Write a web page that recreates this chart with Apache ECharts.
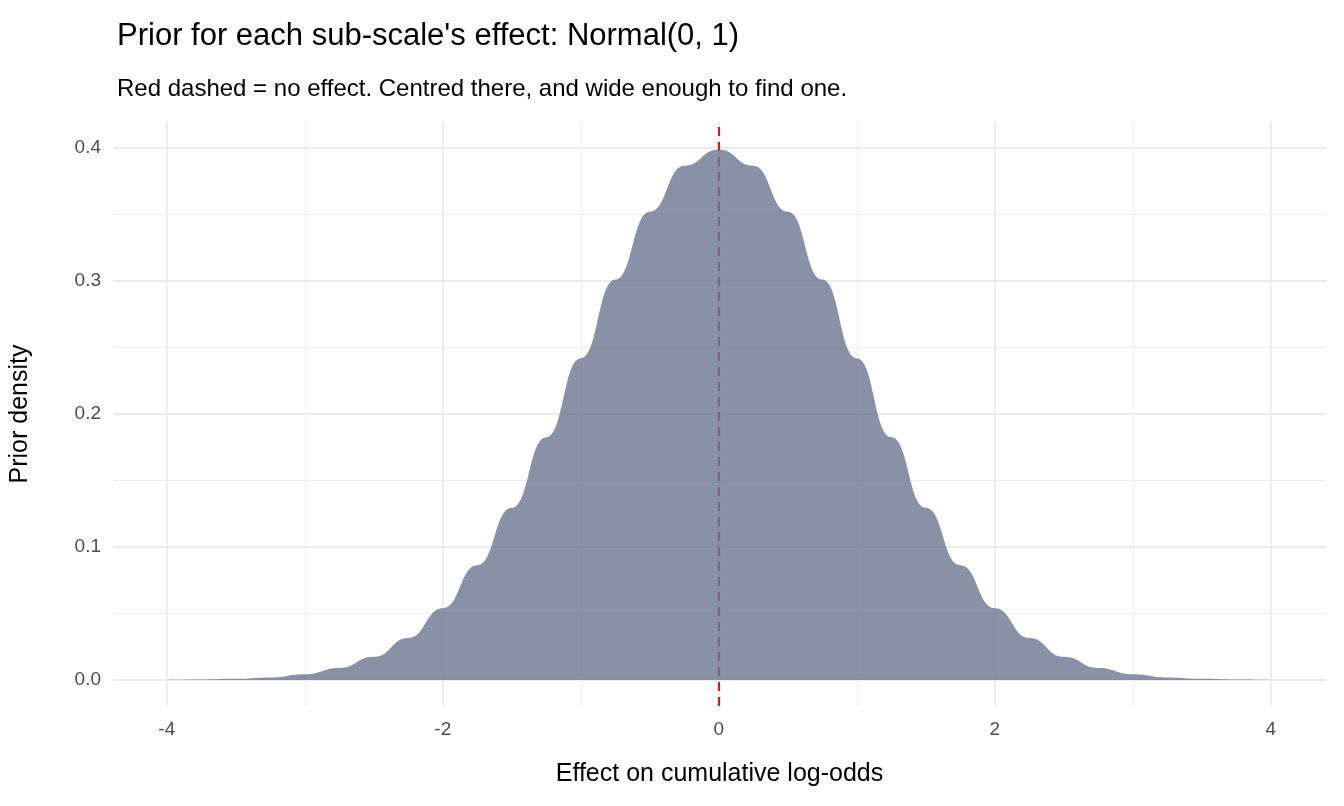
<!DOCTYPE html>
<html><head><meta charset="utf-8">
<script src="https://cdn.jsdelivr.net/npm/echarts@6/dist/echarts.min.js"></script>
<style>html,body{margin:0;padding:0;background:#fff}#c{width:1344px;height:806px}</style>
</head><body><div id="c"></div>
<script>
const xs = [-4,-3.75,-3.5,-3.25,-3,-2.75,-2.5,-2.25,-2,-1.75,-1.5,-1.25,-1,-0.75,-0.5,-0.25,0,0.25,0.5,0.75,1,1.25,1.5,1.75,2,2.25,2.5,2.75,3,3.25,3.5,3.75,4];
const density = [0.0001,0.0004,0.0009,0.0020,0.0044,0.0091,0.0175,0.0317,0.0540,0.0863,0.1295,0.1826,0.2420,0.3011,0.3521,0.3867,0.3989,0.3867,0.3521,0.3011,0.2420,0.1826,0.1295,0.0863,0.0540,0.0317,0.0175,0.0091,0.0044,0.0020,0.0009,0.0004,0.0001];
const xTicks = [-4,-2,0,2,4];
const xMinor = [-3,-1,1,3];
const yTicks = [0,0.1,0.2,0.3,0.4];
const yMinor = [0.05,0.15,0.25,0.35];
const XMIN=-4.39, XMAX=4.4, YMIN=-0.0195, YMAX=0.4195;
const F='Liberation Sans, Arial';
function vline(x,w){return [{coord:[x,YMIN],lineStyle:{width:w}},{coord:[x,YMAX]}];}
function hline(y,w){return [{coord:[XMIN,y],lineStyle:{width:w}},{coord:[XMAX,y]}];}
const grid=[].concat(xTicks.map(v=>vline(v,1.8)),xMinor.map(v=>vline(v,0.9)),yTicks.map(v=>hline(v,1.8)),yMinor.map(v=>hline(v,0.9)));
const chart=echarts.init(document.getElementById('c'));
chart.setOption({
  animation:false,
  title:[{text:"Prior for each sub-scale's effect: Normal(0, 1)",left:112,top:16,textStyle:{fontFamily:F,fontSize:31,fontWeight:'normal',color:'#000'}},
         {text:"Red dashed = no effect. Centred there, and wide enough to find one.",left:112,top:72,textStyle:{fontFamily:F,fontSize:24,fontWeight:'normal',color:'#000'}}],
  grid:{left:113,right:18,top:122,bottom:100},
  xAxis:{type:'value',min:XMIN,max:XMAX,name:'Effect on cumulative log-odds',nameLocation:'middle',nameGap:56,
    nameTextStyle:{fontFamily:F,fontSize:25,color:'#000'},
    axisLine:{show:false},axisTick:{show:false},splitLine:{show:false},
    axisLabel:{customValues:xTicks,fontFamily:F,fontSize:19,color:'#4d4d4d',margin:14,formatter:v=>String(v)}},
  yAxis:{type:'value',min:YMIN,max:YMAX,name:'Prior density',nameLocation:'middle',nameGap:80,
    nameTextStyle:{fontFamily:F,fontSize:25,color:'#000'},
    axisLine:{show:false},axisTick:{show:false},splitLine:{show:false},
    axisLabel:{customValues:yTicks,fontFamily:F,fontSize:19,color:'#4d4d4d',margin:12,formatter:v=>v.toFixed(1)}},
  series:[
    {type:'line',data:[],z:1,zlevel:0,markLine:{silent:true,symbol:'none',label:{show:false},lineStyle:{color:'#ebebeb',type:'solid'},data:grid}},
    {type:'line',data:xs.map((x,i)=>[x,density[i]]),smooth:0.5,smoothMonotone:'x',symbol:'none',z:10,zlevel:1,lineStyle:{width:0},areaStyle:{color:'#6b7590',opacity:0.8,origin:0}},
    {type:'line',data:[],z:20,zlevel:2,markLine:{silent:true,symbol:'none',label:{show:false},lineStyle:{color:'#d7191c',type:[9,6],width:2.2},data:[vline(0,2.2)]}}
  ]
});
</script></body></html>
